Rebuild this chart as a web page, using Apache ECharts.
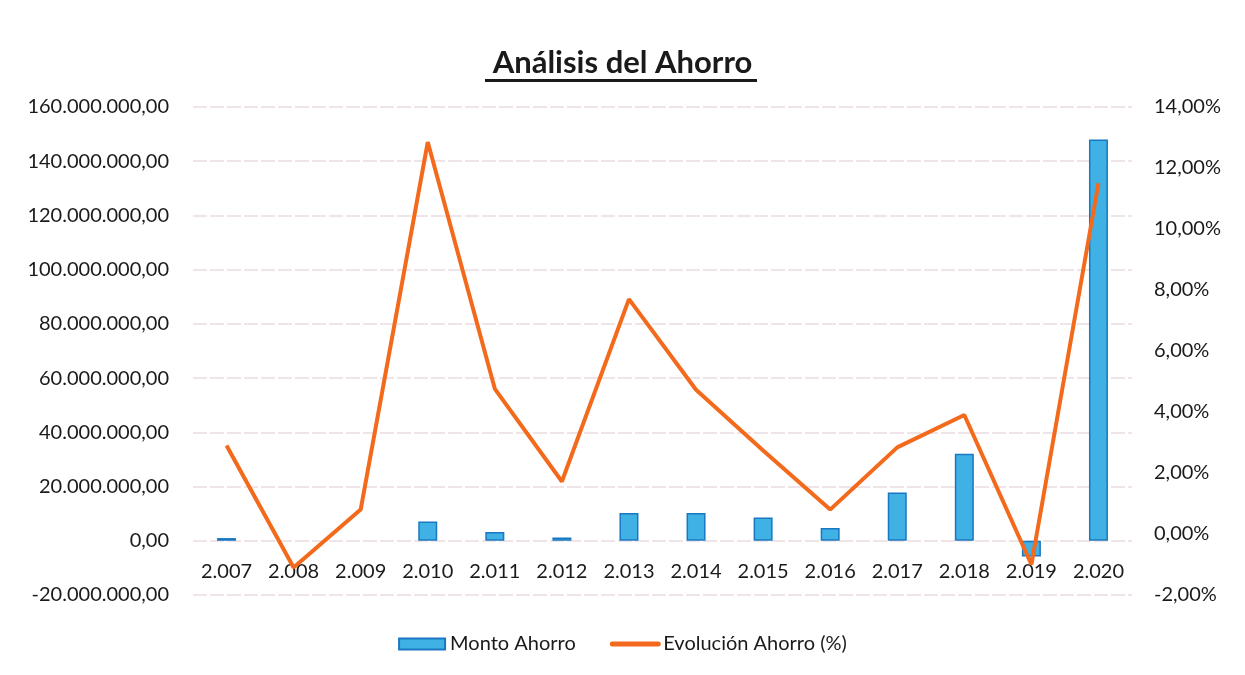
<!DOCTYPE html>
<html>
<head>
<meta charset="utf-8">
<script src="https://cdn.jsdelivr.net/npm/echarts@6/dist/echarts.min.js"></script>
<style>
    html, body { margin: 0; padding: 0; background: #ffffff; }
    #chart { width: 1245px; height: 675px; }
</style>
</head>
<body>
<div id="chart"></div>
<script>
    const years = ['2.007', '2.008', '2.009', '2.010', '2.011', '2.012', '2.013', '2.014', '2.015', '2.016', '2.017', '2.018', '2.019', '2.020']
    // 2.008 and 2.009 show no bar in the picture
    const montoAhorro = [1000000, null, null, 7100000, 3200000, 1200000, 10200000, 10200000, 8600000, 4700000, 17800000, 32100000, -5800000, 148000000]
    const evolucionAhorro = [2.9, -1.1, 0.8, 12.85, 4.76, 1.72, 7.7, 4.73, 2.74, 0.8, 2.84, 3.9, -1.0, 11.5]

    const font = 'Lato, "Open Sans", sans-serif'

    // grid: top 107, bottom 80 -> 488px for 9 intervals of the left axis
    const gridTop = 107
    const gridBottom = 80
    const zeroOffset = (675 - gridTop - gridBottom) / 9

    function fmtMonto (v) {
        const neg = v < 0
        const s = String(Math.abs(Math.round(v))).replace(/\B(?=(\d{3})+(?!\d))/g, '.')
        return (neg ? '-' : '') + s + ',00'
    }

    function fmtPct (v) {
        return v.toFixed(2).replace('.', ',') + '%'
    }

    const chart = echarts.init(document.getElementById('chart'))

    const option = {
        backgroundColor: '#ffffff',
        animation: false,
        title: {
            text: 'Análisis del Ahorro',
            left: 'center',
            top: 42,
            textStyle: {
                fontFamily: font,
                fontSize: 31,
                fontWeight: 'bold',
                color: '#1a1a1a'
            }
        },
        graphic: [
            {
                type: 'rect',
                left: 485,
                top: 79,
                shape: { width: 272, height: 3 },
                style: { fill: '#1a1a1a' }
            }
        ],
        legend: {
            bottom: 16,
            left: 'center',
            itemGap: 34,
            itemWidth: 46,
            itemHeight: 11,
            textStyle: {
                fontFamily: font,
                fontSize: 20,
                color: '#1a1a1a'
            },
            data: [
                { name: 'Monto Ahorro', icon: 'rect' },
                {
                    name: 'Evolución Ahorro (%)',
                    icon: 'inherit',
                    itemStyle: { opacity: 0 },
                    lineStyle: { width: 5, cap: 'round' }
                }
            ]
        },
        grid: {
            left: 193,
            right: 113,
            top: gridTop,
            bottom: gridBottom,
            containLabel: false
        },
        xAxis: [
            {
                type: 'category',
                data: years,
                offset: -zeroOffset,
                axisLine: {
                    show: false,
                    onZero: false
                },
                axisTick: { show: false },
                axisLabel: {
                    margin: 21,
                    interval: 0,
                    fontFamily: font,
                    fontSize: 20,
                    color: '#1a1a1a'
                }
            }
        ],
        yAxis: [
            {
                type: 'value',
                min: -20000000,
                max: 160000000,
                interval: 20000000,
                axisLine: { show: false },
                axisTick: { show: false },
                axisLabel: {
                    formatter: fmtMonto,
                    margin: 24,
                    fontFamily: font,
                    fontSize: 20,
                    color: '#1a1a1a'
                },
                splitLine: {
                    show: true,
                    lineStyle: { color: '#eadcdf', width: 1.5, type: [14, 3] }
                }
            },
            {
                type: 'value',
                min: -2,
                max: 14,
                interval: 2,
                position: 'right',
                axisLine: { show: false },
                axisTick: { show: false },
                axisLabel: {
                    formatter: fmtPct,
                    margin: 22,
                    fontFamily: font,
                    fontSize: 20,
                    color: '#1a1a1a'
                },
                splitLine: { show: false }
            }
        ],
        series: [
            {
                name: 'Monto Ahorro',
                type: 'bar',
                yAxisIndex: 0,
                barWidth: 19,
                itemStyle: {
                    color: '#3fb1e5',
                    borderColor: '#1a78c2',
                    borderWidth: 1.5
                },
                data: montoAhorro
            },
            {
                name: 'Evolución Ahorro (%)',
                type: 'line',
                yAxisIndex: 1,
                symbol: 'none',
                lineStyle: { color: '#f36a1c', width: 4 },
                itemStyle: { color: '#f36a1c' },
                data: evolucionAhorro
            }
        ]
    }

    chart.setOption(option)
</script>
</body>
</html>
